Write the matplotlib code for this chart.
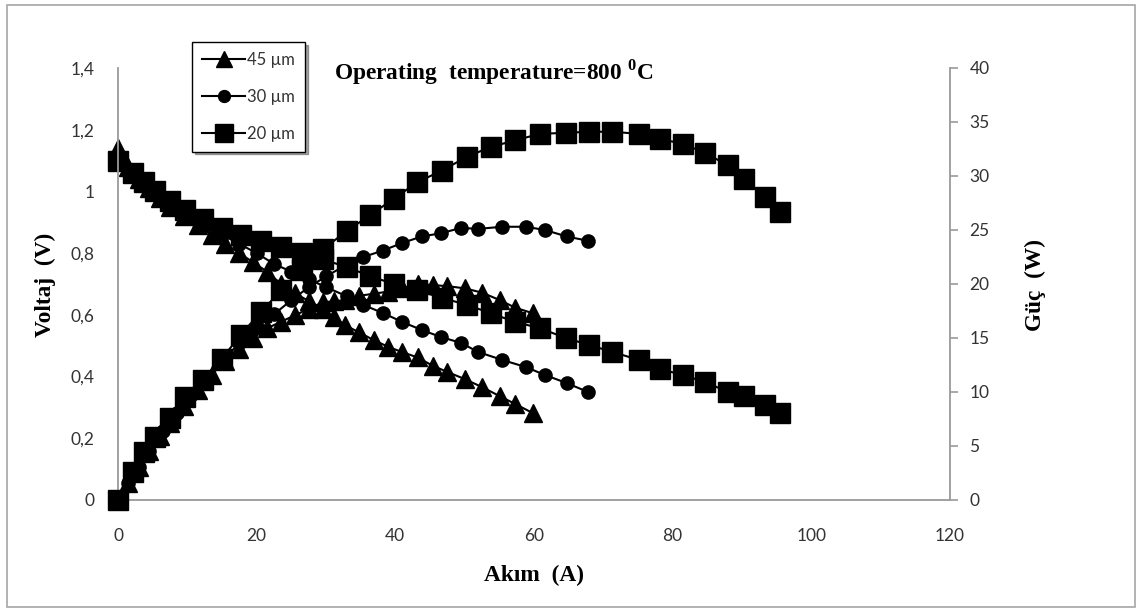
import matplotlib
matplotlib.use("Agg")
import matplotlib.pyplot as plt
from matplotlib.patches import Rectangle

# --- data ---
# 45 um cell
i_45 = [0, 1.5, 3.0, 4.5, 6.0, 7.5, 9.5, 11.5, 13.5, 15.5, 17.5, 19.5, 21.5, 23.5,
        25.5, 27.5, 29.5, 31.1, 32.7, 34.7, 36.9, 39.0, 40.9, 43.2, 45.4, 47.5,
        50.0, 52.5, 55.1, 57.3, 59.8]
v_45 = [1.14, 1.08, 1.04, 1.01, 0.98, 0.95, 0.92, 0.89, 0.86, 0.83, 0.80, 0.77,
        0.74, 0.70, 0.67, 0.645, 0.62, 0.593, 0.567, 0.544, 0.518, 0.496, 0.48,
        0.462, 0.435, 0.415, 0.392, 0.366, 0.336, 0.311, 0.282]
p_45 = [0, 1.6, 3.1, 4.5, 5.9, 7.1, 8.7, 10.2, 11.6, 12.9, 14.0, 15.0, 15.9, 16.5,
        17.1, 17.7, 18.3, 18.4, 18.5, 18.9, 19.1, 19.3, 19.6, 20.0, 19.9, 19.8,
        19.6, 19.2, 18.5, 17.8, 17.3]

# 30 um cell
i_30 = [0, 1.5, 3.0, 4.5, 6.5, 8.5, 10.5, 12.5, 15.0, 17.5, 20.0, 22.5, 25.0,
        27.5, 30.0, 33.0, 35.4, 38.2, 41.0, 43.8, 46.6, 49.5, 51.9, 55.4, 58.8,
        61.6, 64.7, 67.8]
v_30 = [1.10, 1.07, 1.04, 1.01, 0.98, 0.95, 0.92, 0.89, 0.86, 0.83, 0.80, 0.765,
        0.74, 0.715, 0.69, 0.66, 0.632, 0.606, 0.577, 0.551, 0.528, 0.509, 0.48,
        0.454, 0.431, 0.405, 0.379, 0.35]
p_30 = [0, 1.6, 3.1, 4.5, 6.4, 8.1, 9.7, 11.1, 12.9, 14.5, 16.0, 17.2, 18.5, 19.7,
        20.7, 21.8, 22.5, 23.1, 23.8, 24.4, 24.7, 25.2, 25.1, 25.3, 25.3, 25.0,
        24.4, 24.0]

# 20 um cell
i_20 = [0, 2.2, 3.7, 5.3, 7.5, 9.7, 12.2, 15.0, 17.7, 20.6, 23.5, 26.5, 29.5,
        33.0, 36.4, 39.8, 43.1, 46.7, 50.4, 53.8, 57.3, 60.8, 64.6, 68.0, 71.3,
        75.1, 78.2, 81.5, 84.7, 88.0, 90.3, 93.3, 95.5]
v_20 = [1.10, 1.06, 1.03, 1.00, 0.97, 0.94, 0.91, 0.88, 0.86, 0.84, 0.82, 0.80,
        0.78, 0.755, 0.725, 0.70, 0.68, 0.655, 0.632, 0.605, 0.577, 0.557, 0.525,
        0.502, 0.48, 0.454, 0.424, 0.405, 0.382, 0.35, 0.337, 0.308, 0.282]
p_20 = [0, 2.6, 4.4, 5.8, 7.6, 9.5, 11.1, 13.1, 15.3, 17.4, 19.4, 21.3, 23.2,
        24.9, 26.4, 27.9, 29.4, 30.5, 31.8, 32.7, 33.3, 33.9, 34.0, 34.1, 34.1,
        33.9, 33.4, 33.0, 32.1, 31.0, 29.7, 28.1, 26.7]

x_ticks = [0, 20, 40, 60, 80, 100, 120]
v_ticks = [0, 0.2, 0.4, 0.6, 0.8, 1.0, 1.2, 1.4]
v_tick_labels = ["0", "0,2", "0,4", "0,6", "0,8", "1", "1,2", "1,4"]
p_ticks = [0, 5, 10, 15, 20, 25, 30, 35, 40]

plt.rcParams['mathtext.fontset'] = 'custom'
plt.rcParams['mathtext.rm'] = 'Liberation Serif'
plt.rcParams['mathtext.bf'] = 'Liberation Serif:bold'

tick_font = dict(family='Lato', size=12.5, color='#333333')
label_font = dict(family='Liberation Serif', weight='bold', size=16.8, color='black')
spine_col = '#9a9a9a'

fig = plt.figure(figsize=(11.39, 6.11), dpi=100)
ax = fig.add_axes([118 / 1139, 1 - 500 / 611, 832 / 1139, 432 / 611])
ax2 = ax.twinx()

series = [
    ('45 µm', '^', 12.5, i_45, v_45, p_45),
    ('30 µm', 'o', 9.5, i_30, v_30, p_30),
    ('20 µm', 's', 14, i_20, v_20, p_20),
]
handles = []
for name, mk, ms, cur, volt, power in series:
    h, = ax.plot(cur, volt, color='black', lw=1.5, marker=mk, ms=ms,
                 clip_on=False, label=name)
    ax2.plot(cur, power, color='black', lw=1.5, marker=mk, ms=ms, clip_on=False)
    handles.append(h)

ax.set_xlim(0, 120)
ax.set_ylim(0, 1.4)
ax2.set_ylim(0, 40)
ax.set_xticks(x_ticks)
ax.set_xticklabels([str(t) for t in x_ticks], **tick_font)
ax.set_yticks(v_ticks)
ax.set_yticklabels(v_tick_labels, **tick_font)
ax2.set_yticks(p_ticks)
ax2.set_yticklabels([str(t) for t in p_ticks], **tick_font)

ax.tick_params(axis='x', length=0, pad=20)
ax.tick_params(axis='y', length=0, pad=17)
ax2.tick_params(axis='y', length=6, width=1.2, color=spine_col, pad=8)

for a in (ax, ax2):
    a.spines['top'].set_visible(False)
    for s in ('left', 'right', 'bottom'):
        a.spines[s].set_color(spine_col)
        a.spines[s].set_linewidth(1.3)
ax.spines['right'].set_visible(False)
ax2.spines['left'].set_visible(False)
ax2.spines['bottom'].set_visible(False)

fig.text(534 / 1139, 1 - 575 / 611, 'Akım  (A)', ha='center', va='center', **label_font)
fig.text(45 / 1139, 1 - 285 / 611, 'Voltaj  (V)', ha='center', va='center',
         rotation=90, **label_font)
fig.text(1035 / 1139, 1 - 285 / 611, 'Güç  (W)', ha='center', va='center',
         rotation=90, **label_font)
fig.text(494 / 1139, 1 - 72 / 611, r'Operating  temperature=800 $^{\mathbf{0}}$C',
         ha='center', va='center', **label_font)

leg = fig.legend(handles=handles, loc='upper left',
                 bbox_to_anchor=(192 / 1139, 1 - 42 / 611), borderaxespad=0,
                 frameon=True, fancybox=False, shadow=True, markerscale=0.9,
                 handlelength=2.6, handletextpad=0.1, labelspacing=1.25,
                 borderpad=0.6, prop={'family': 'Lato', 'size': 12})
leg.get_frame().set_edgecolor('black')
leg.get_frame().set_linewidth(1.0)
for t in leg.get_texts():
    t.set_color('#333333')

fig.patches.append(Rectangle((7 / 1139, 4 / 611), 1128 / 1139, 602 / 611,
                             transform=fig.transFigure, fill=False,
                             edgecolor='#a6a6a6', lw=1.2))

fig.savefig('out.png', dpi=100)
